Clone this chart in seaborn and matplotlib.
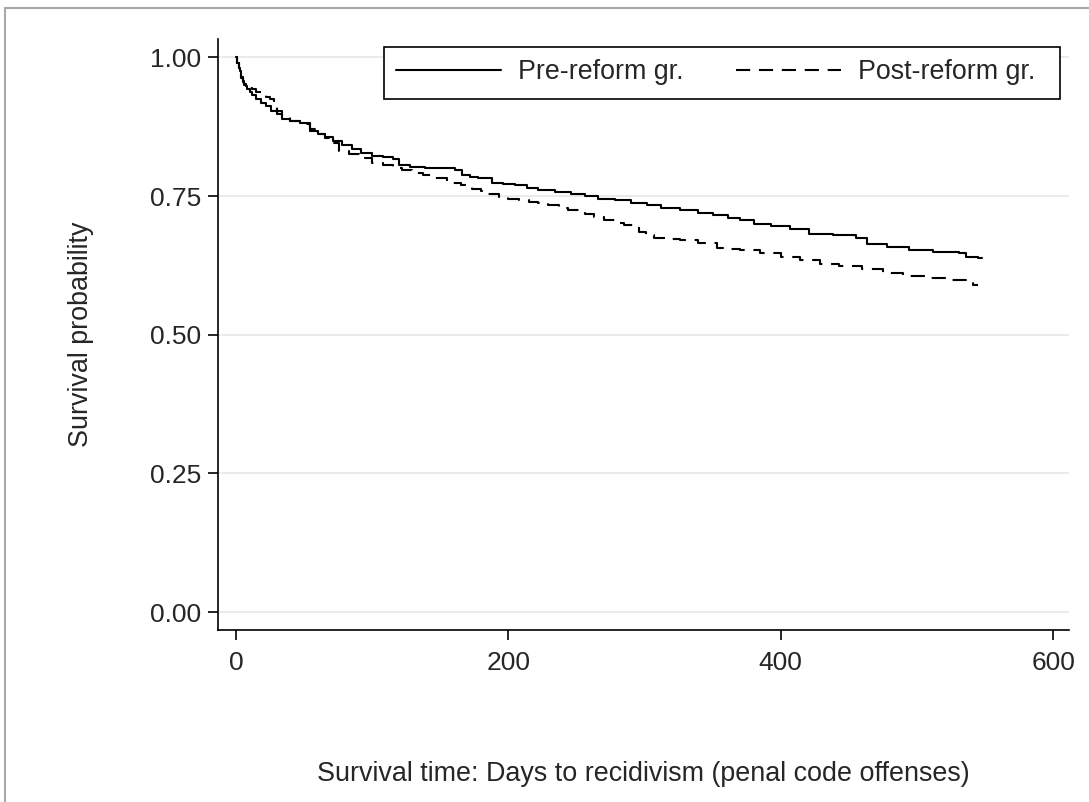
import matplotlib.pyplot as plt
import seaborn as sns
from matplotlib.lines import Line2D
from matplotlib.patches import Rectangle

# Kaplan-Meier estimates (days, survival probability)
pre_days = [0, 1, 2, 3, 4, 5, 6, 7, 8, 10, 12, 15, 18, 22, 26, 30, 34, 40, 47,
            54, 60, 65, 71, 78, 85, 92, 100, 108, 115, 120, 128, 139, 150, 161,
            166, 172, 178, 188, 196, 205, 214, 222, 234, 246, 256, 266, 278,
            290, 302, 312, 326, 339, 350, 361, 370, 380, 393, 407, 421, 438,
            455, 463, 478, 494, 512, 531, 536, 545, 548]
pre_surv = [1.0, 0.99, 0.98, 0.975, 0.965, 0.958, 0.952, 0.948, 0.943, 0.938,
            0.932, 0.925, 0.918, 0.912, 0.904, 0.897, 0.889, 0.886, 0.882,
            0.868, 0.862, 0.857, 0.850, 0.842, 0.834, 0.828, 0.823, 0.820,
            0.817, 0.806, 0.803, 0.800, 0.800, 0.797, 0.787, 0.785, 0.783,
            0.774, 0.772, 0.769, 0.765, 0.760, 0.757, 0.754, 0.750, 0.745,
            0.742, 0.738, 0.734, 0.729, 0.724, 0.720, 0.716, 0.711, 0.706,
            0.700, 0.696, 0.691, 0.682, 0.679, 0.675, 0.664, 0.659, 0.653,
            0.650, 0.648, 0.641, 0.639, 0.639]

post_days = [0, 1, 2, 3, 4, 5, 6, 8, 10, 12, 15, 18, 22, 25, 28, 30, 34, 40,
             47, 54, 60, 65, 70, 76, 83, 90, 100, 108, 115, 122, 129, 137, 144,
             155, 165, 173, 180, 185, 193, 200, 208, 215, 222, 229, 237, 244,
             256, 263, 270, 278, 285, 296, 301, 307, 316, 326, 339, 353, 362,
             370, 385, 400, 414, 429, 443, 460, 475, 490, 507, 521, 536, 541,
             545]
post_surv = [1.0, 0.99, 0.98, 0.97, 0.962, 0.955, 0.95, 0.946, 0.944, 0.943,
             0.938, 0.932, 0.928, 0.925, 0.912, 0.904, 0.895, 0.886, 0.880,
             0.870, 0.862, 0.855, 0.845, 0.832, 0.826, 0.819, 0.810, 0.806,
             0.801, 0.797, 0.792, 0.788, 0.783, 0.774, 0.770, 0.763, 0.759,
             0.754, 0.749, 0.745, 0.743, 0.740, 0.737, 0.734, 0.729, 0.725,
             0.718, 0.712, 0.706, 0.702, 0.698, 0.686, 0.680, 0.675, 0.672,
             0.670, 0.666, 0.657, 0.655, 0.653, 0.648, 0.641, 0.635, 0.628,
             0.623, 0.619, 0.612, 0.605, 0.603, 0.599, 0.594, 0.590, 0.590]

group_labels = ['Pre-reform gr.', 'Post-reform gr.']
y_ticks = [0.0, 0.25, 0.5, 0.75, 1.0]
x_ticks = [0, 200, 400, 600]

sns.set_style('white')
plt.rcParams['font.family'] = ['Liberation Sans', 'DejaVu Sans']

LW = 1.5
DASH = (0, (6.8, 4.2))

fig = plt.figure(figsize=(10.89, 8.02), dpi=100)
ax = fig.add_axes([0.2002, 0.2145, 0.7815, 0.7369])

# light horizontal grid like Stata's s2 scheme
for y in y_ticks:
    ax.axhline(y, color='#e6e6e6', lw=1.2, zorder=0)

sns.lineplot(x=pre_days, y=pre_surv, drawstyle='steps-post', color='black',
             lw=LW, ax=ax, label=group_labels[0])
sns.lineplot(x=post_days, y=post_surv, drawstyle='steps-post', color='black',
             lw=LW, linestyle=DASH, ax=ax, label=group_labels[1])

ax.set_xlim(-13.2, 611.7)
ax.set_ylim(-0.032, 1.033)
ax.set_xticks(x_ticks)
ax.set_yticks(y_ticks)
ax.set_yticklabels([f'{v:.2f}' for v in y_ticks])

for side in ['top', 'right']:
    ax.spines[side].set_visible(False)
for side in ['left', 'bottom']:
    ax.spines[side].set_color('black')
    ax.spines[side].set_linewidth(1.2)

ax.tick_params(axis='both', direction='out', length=7, width=1.2,
               color='black', labelsize=19, left=True, bottom=True)
ax.tick_params(axis='x', pad=8)
ax.tick_params(axis='y', pad=5)

ax.set_xlabel('Survival time: Days to recidivism (penal code offenses)',
              fontsize=19.4)
ax.xaxis.set_label_coords(0.5, -0.243)
ax.xaxis.label.set_va('center')
ax.set_ylabel('Survival probability', fontsize=19.4)
ax.yaxis.set_label_coords(-0.161, 0.5)
ax.yaxis.label.set_va('center')

# legend box: Stata leaves more room on the right than on the left
box_x0, box_x1 = 0.1951, 0.9894
box_y0, box_y1 = 0.8985, 0.9865
ax.add_patch(Rectangle((box_x0, box_y0), box_x1 - box_x0, box_y1 - box_y0,
                       transform=ax.transAxes, fill=True, facecolor='white',
                       edgecolor='black', lw=1.2, zorder=4))

handles = [Line2D([], [], color='black', lw=LW),
           Line2D([], [], color='black', lw=LW, linestyle=DASH)]
leg = ax.legend(handles, group_labels, ncol=2, loc='upper left',
                bbox_to_anchor=(box_x0, box_y1), fontsize=19.3,
                frameon=False, handlelength=3.9, handletextpad=0.65,
                columnspacing=1.95, borderpad=0.45, borderaxespad=0)
leg.set_zorder(5)

# grey outer frame of the graph window (left and top edges visible)
fig.add_artist(Line2D([0.0046, 1.0], [0.990, 0.990], color='#a8a8a8',
                      lw=1.5, transform=fig.transFigure))
fig.add_artist(Line2D([0.0046, 0.0046], [0.0, 0.990], color='#a8a8a8',
                      lw=1.5, transform=fig.transFigure))

fig.savefig('out.png', dpi=100)
